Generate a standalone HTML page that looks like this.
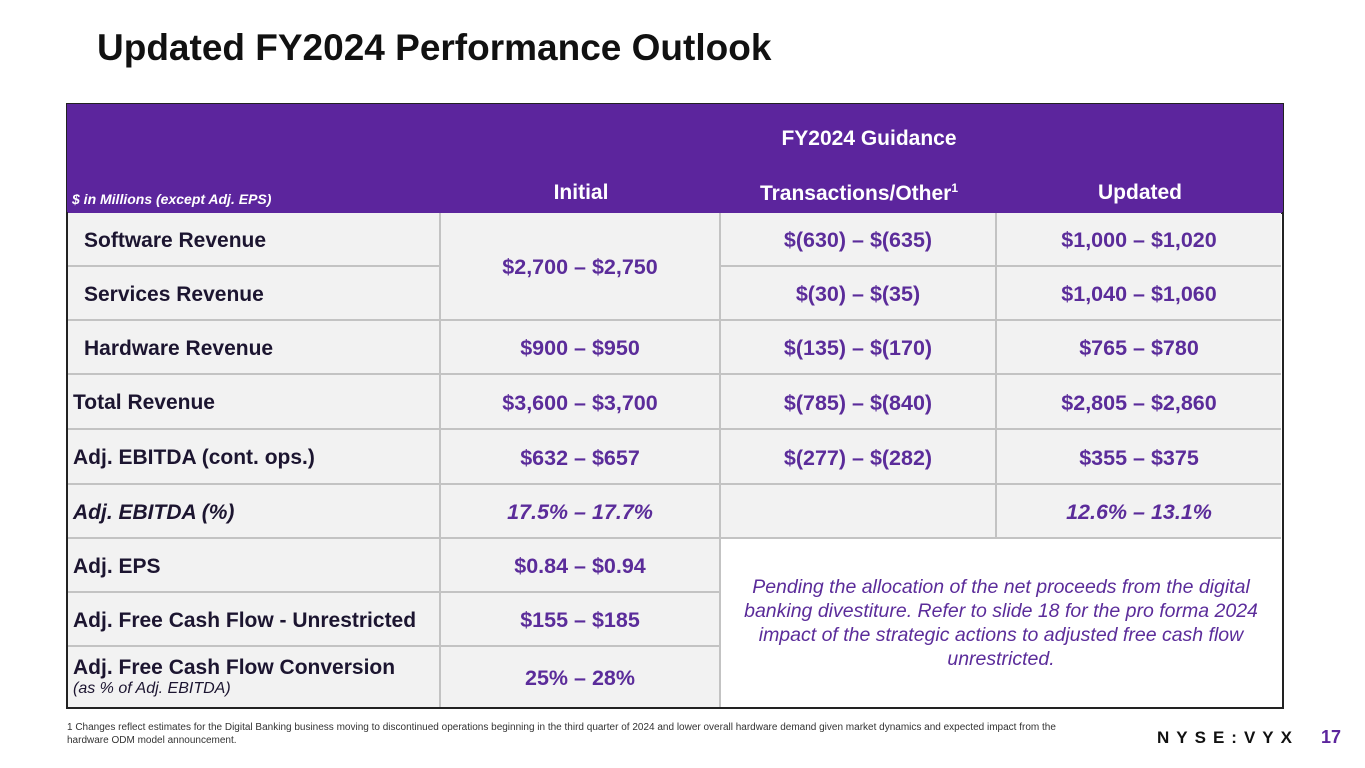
<!DOCTYPE html>
<html><head><meta charset="utf-8"><style>
body{margin:0;width:1365px;height:768px;background:#fff;position:relative;font-family:"Liberation Sans",sans-serif;overflow:hidden}
.t{position:absolute;left:97px;top:27px;font-size:37px;font-weight:bold;color:#111}
.c{position:absolute;box-sizing:border-box;display:flex;align-items:center;justify-content:center;text-align:center;background:#f2f2f2;border-right:2px solid #c3c3c3;border-bottom:2px solid #c3c3c3;font-weight:bold;font-size:21.5px;color:#5b2c9a;padding-top:3px}
.l{justify-content:flex-start;color:#1c1530;font-size:21px;text-align:left}
.i{font-style:italic}
.h{position:absolute;color:#fff;font-weight:bold;font-size:21px;text-align:center}
</style></head><body>
<div class="t">Updated FY2024 Performance Outlook</div>
<div style="position:absolute;left:66px;top:103px;width:1218px;height:111px;background:#5c259d;border:1px solid #222;box-sizing:border-box"></div>
<div class="h" style="left:721px;width:296px;top:127px">FY2024 Guidance</div>
<div class="h" style="left:72px;top:191px;font-size:14px;font-style:italic;text-align:left">$ in Millions (except Adj. EPS)</div>
<div class="h" style="left:441px;width:280px;top:181px">Initial</div>
<div class="h" style="left:721px;width:276px;top:181px">Transactions/Other<sup style="font-size:12px">1</sup></div>
<div class="h" style="left:997px;width:286px;top:181px">Updated</div>
<div style="position:absolute;left:66px;top:212px;width:1218px;height:497px;border:2px solid #222;border-top:none;box-sizing:border-box"></div>

<div class="c l" style="left:68px;top:213px;width:373px;height:54px;padding-left:16px">Software Revenue</div>
<div class="c l" style="left:68px;top:267px;width:373px;height:54px;padding-left:16px">Services Revenue</div>
<div class="c l" style="left:68px;top:321px;width:373px;height:54px;padding-left:16px">Hardware Revenue</div>
<div class="c l" style="left:68px;top:375px;width:373px;height:55px;padding-left:5px">Total Revenue</div>
<div class="c l" style="left:68px;top:430px;width:373px;height:55px;padding-left:5px">Adj. EBITDA (cont. ops.)</div>
<div class="c l i" style="left:68px;top:485px;width:373px;height:54px;padding-left:5px">Adj. EBITDA (%)</div>
<div class="c l" style="left:68px;top:539px;width:373px;height:54px;padding-left:5px">Adj. EPS</div>
<div class="c l" style="left:68px;top:593px;width:373px;height:54px;padding-left:5px">Adj. Free Cash Flow - Unrestricted</div>
<div class="c l" style="left:68px;top:647px;width:373px;height:60px;padding-left:5px;padding-top:0;flex-direction:column;align-items:flex-start;justify-content:center;border-bottom:none"><div>Adj. Free Cash Flow Conversion</div><div style="font-size:16px;font-weight:normal;font-style:italic">(as % of Adj. EBITDA)</div></div>

<div class="c" style="left:441px;top:213px;width:280px;height:108px">$2,700 – $2,750</div>
<div class="c" style="left:441px;top:321px;width:280px;height:54px">$900 – $950</div>
<div class="c" style="left:441px;top:375px;width:280px;height:55px">$3,600 – $3,700</div>
<div class="c" style="left:441px;top:430px;width:280px;height:55px">$632 – $657</div>
<div class="c i" style="left:441px;top:485px;width:280px;height:54px">17.5% – 17.7%</div>
<div class="c" style="left:441px;top:539px;width:280px;height:54px">$0.84 – $0.94</div>
<div class="c" style="left:441px;top:593px;width:280px;height:54px">$155 – $185</div>
<div class="c" style="left:441px;top:647px;width:280px;height:60px;border-bottom:none">25% – 28%</div>

<div class="c" style="left:721px;top:213px;width:276px;height:54px">$(630) – $(635)</div>
<div class="c" style="left:721px;top:267px;width:276px;height:54px">$(30) – $(35)</div>
<div class="c" style="left:721px;top:321px;width:276px;height:54px">$(135) – $(170)</div>
<div class="c" style="left:721px;top:375px;width:276px;height:55px">$(785) – $(840)</div>
<div class="c" style="left:721px;top:430px;width:276px;height:55px">$(277) – $(282)</div>
<div class="c" style="left:721px;top:485px;width:276px;height:54px"></div>

<div class="c" style="left:997px;top:213px;width:284px;height:54px;border-right:none">$1,000 – $1,020</div>
<div class="c" style="left:997px;top:267px;width:284px;height:54px;border-right:none">$1,040 – $1,060</div>
<div class="c" style="left:997px;top:321px;width:284px;height:54px;border-right:none">$765 – $780</div>
<div class="c" style="left:997px;top:375px;width:284px;height:55px;border-right:none">$2,805 – $2,860</div>
<div class="c" style="left:997px;top:430px;width:284px;height:55px;border-right:none">$355 – $375</div>
<div class="c i" style="left:997px;top:485px;width:284px;height:54px;border-right:none">12.6% – 13.1%</div>

<div class="c i" style="left:721px;top:539px;width:560px;height:168px;background:#fff;border:none;font-weight:normal;font-size:19.5px;line-height:24px;padding:0 14px">Pending the allocation of the net proceeds from the digital banking divestiture. Refer to slide 18 for the pro forma 2024 impact of the strategic actions to adjusted free cash flow unrestricted.</div>

<div style="position:absolute;left:67px;top:721px;width:990px;font-size:10px;line-height:13px;color:#333">1 Changes reflect estimates for the Digital Banking business moving to discontinued operations beginning in the third quarter of 2024 and lower overall hardware demand given market dynamics and expected impact from the hardware ODM model announcement.</div>
<div style="position:absolute;left:1157px;top:728px;font-size:17px;font-weight:bold;letter-spacing:7px;color:#111">NYSE:VYX</div>
<div style="position:absolute;left:1321px;top:727px;font-size:18px;font-weight:bold;color:#5c259d">17</div>
</body></html>
